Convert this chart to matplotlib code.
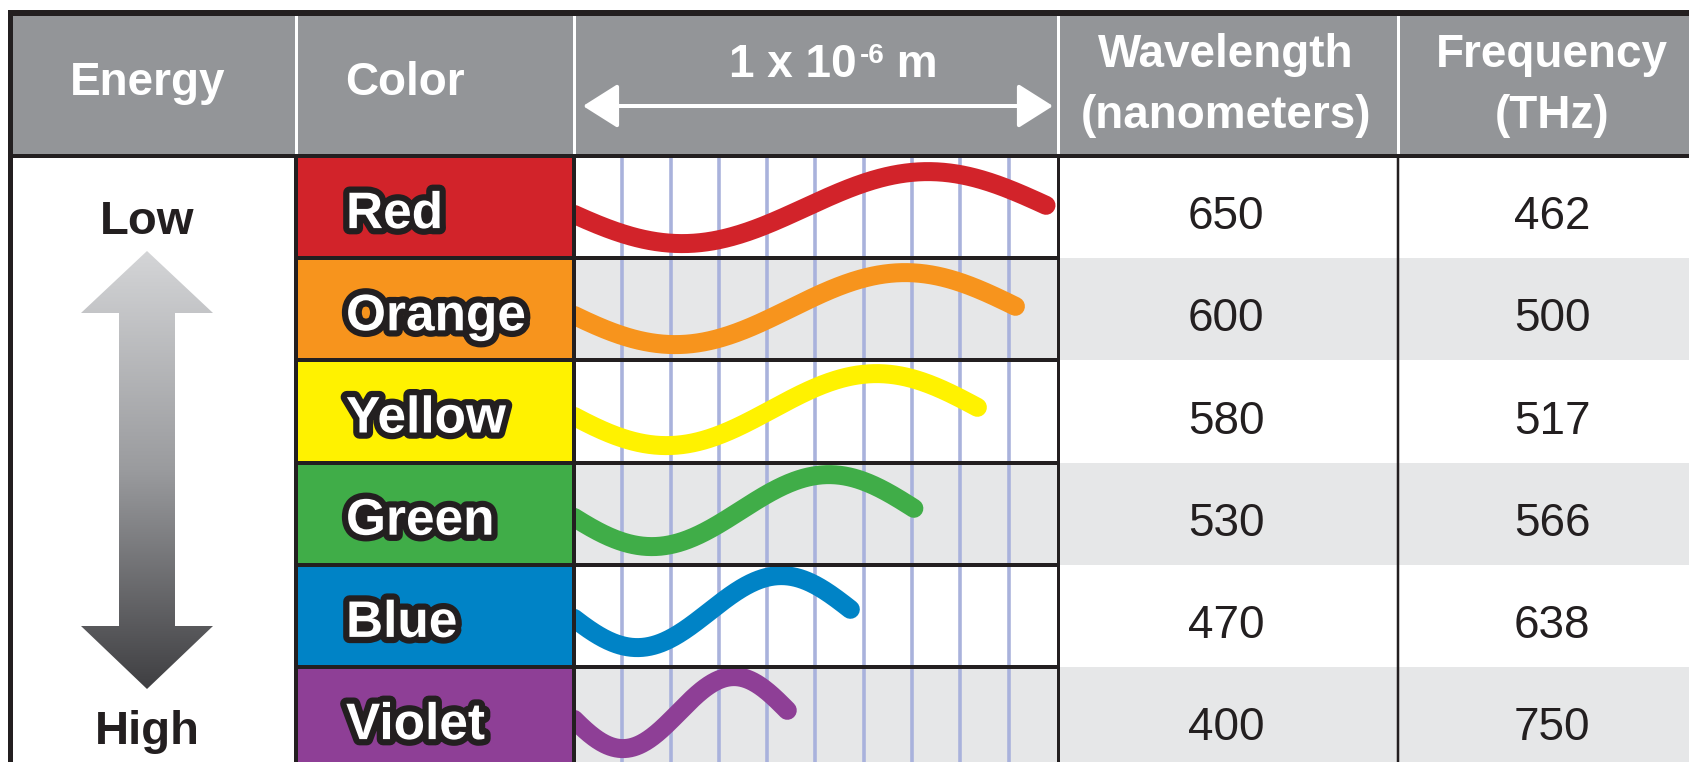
import numpy as np
import matplotlib.pyplot as plt
import matplotlib.patheffects as pe
from matplotlib.patches import Rectangle, Polygon, FancyArrowPatch
from matplotlib.colors import LinearSegmentedColormap

plt.rcParams['font.family'] = ['Liberation Sans', 'DejaVu Sans']

# data
color_names = ['Red', 'Orange', 'Yellow', 'Green', 'Blue', 'Violet']
wavelength_nm = [650, 600, 580, 530, 470, 400]
frequency_thz = [462, 500, 517, 566, 638, 750]
swatch_colors = ['#d2232a', '#f7941d', '#fff200', '#40ad48', '#0083c6', '#8e3f96']
# period of each drawn wave, as a fraction of the 1 x 10^-6 m scale width
wave_period = [1.018, 0.952, 0.870, 0.733, 0.596, 0.460]

W, H = 1690, 762
PX = 0.72  # points per pixel at dpi 100

fig = plt.figure(figsize=(W / 100, H / 100), dpi=100)
ax = fig.add_axes([0, 0, 1, 1])

DARK = '#231f20'
GRAY = '#939598'
LIGHT = '#e6e7e8'
GRID = '#a9b2dc'

col_x = [11, 296, 574, 1058, 1398, 1706]
top, head_bot, row_h = 13, 156, 102.2
wave_l, wave_r = 574, 1057

# header band
ax.add_patch(Rectangle((col_x[0], top), W - col_x[0], head_bot - top, fc=GRAY, ec='none', zorder=1))
for x in col_x[1:5]:
    ax.plot([x, x], [16, head_bot], color='white', lw=3 * PX, zorder=2)

# body shading
for i in range(len(color_names)):
    y0 = head_bot + i * row_h
    fc = 'white' if i % 2 == 0 else LIGHT
    ax.add_patch(Rectangle((wave_l, y0), W - wave_l, row_h, fc=fc, ec='none', zorder=1))

# vertical grid in the wave column
step = (wave_r - wave_l) / 10
for k in range(1, 10):
    xg = wave_l + k * step
    ax.plot([xg, xg], [head_bot, H], color=GRID, lw=3.6 * PX, zorder=2)

# waves
clip = Rectangle((wave_l, head_bot), wave_r - wave_l, H - head_bot, transform=ax.transData)
amp = 36
t = np.linspace(0, 0.96, 300)
for i, (per, c) in enumerate(zip(wave_period, swatch_colors)):
    mid = head_bot + (i + 0.5) * row_h + 0.5 - i * 1.2
    xs = wave_l + t * per * (wave_r - wave_l)
    ys = mid + amp * np.cos(2 * np.pi * (t - 0.22))
    ln, = ax.plot(xs, ys, color=c, lw=19 * PX, solid_capstyle='round', zorder=3)
    ln.set_clip_path(clip)

# row separators in the wave column
for i in range(1, len(color_names)):
    y = head_bot + i * row_h
    ax.plot([wave_l, col_x[3]], [y, y], color=DARK, lw=4 * PX, zorder=4)
ax.plot([col_x[3], col_x[3]], [head_bot, H], color=DARK, lw=3 * PX, zorder=4)
ax.plot([col_x[4], col_x[4]], [head_bot, H], color=DARK, lw=2.5 * PX, zorder=4)
ax.plot([col_x[0], W], [head_bot, head_bot], color=DARK, lw=4 * PX, zorder=4)

# outer border
ax.plot([8, W], [13, 13], color=DARK, lw=6 * PX, solid_capstyle='butt', zorder=6)
ax.plot([10.5, 10.5], [10, H], color=DARK, lw=5 * PX, solid_capstyle='butt', zorder=6)

# color swatches
outline = [pe.withStroke(linewidth=9, foreground=DARK)]
for i, (name, c) in enumerate(zip(color_names, swatch_colors)):
    y0 = head_bot + i * row_h
    ax.add_patch(Rectangle((col_x[1], y0), col_x[2] - col_x[1], row_h, fc=c, ec=DARK,
                           lw=4 * PX, zorder=5))
    ax.text(346, y0 + row_h / 2 + 21, name, color='white', fontsize=37, fontweight='bold',
            ha='left', va='baseline', path_effects=outline, zorder=7)

# numbers
for i in range(len(color_names)):
    yb = head_bot + i * row_h + row_h / 2 + 22
    ax.text(1226, yb, str(wavelength_nm[i]), fontsize=33, color=DARK, ha='center', va='baseline', zorder=7)
    ax.text(1552, yb, str(frequency_thz[i]), fontsize=33, color=DARK, ha='center', va='baseline', zorder=7)

# header labels
hd = dict(color='white', fontsize=33, fontweight='bold', va='baseline', zorder=7)
ax.text(148, 95, 'Energy', ha='center', **hd)
ax.text(345, 95, 'Color', ha='left', **hd)
ax.text(1226, 67, 'Wavelength', ha='center', **hd)
ax.text(1226, 128, '(nanometers)', ha='center', **hd)
ax.text(1552, 67, 'Frequency', ha='center', **hd)
ax.text(1552, 128, '(THz)', ha='center', **hd)

t1 = ax.text(729, 77, '1 x 10', ha='left', **hd)
t2 = ax.annotate('-6', xy=(1, 63), xycoords=(t1, 'data'), xytext=(2, 0), textcoords='offset points',
                 color='white', fontsize=20, fontweight='bold', ha='left', va='baseline', zorder=7)
ax.annotate(' m', xy=(1, 77), xycoords=(t2, 'data'), color='white', fontsize=33,
            fontweight='bold', ha='left', va='baseline', zorder=7)

ax.add_patch(FancyArrowPatch((583, 106), (1053, 106),
                             arrowstyle='<|-|>,head_length=0.95,head_width=0.6',
                             mutation_scale=23, color='white', lw=4 * PX,
                             shrinkA=0, shrinkB=0, zorder=7))

# energy arrow with gradient
cx = 147
arrow_pts = [(cx, 251), (cx + 66, 313), (cx + 28, 313), (cx + 28, 626), (cx + 66, 626),
             (cx, 689), (cx - 66, 626), (cx - 28, 626), (cx - 28, 313), (cx - 66, 313)]
poly = Polygon(arrow_pts, closed=True, fc='none', ec='none')
ax.add_patch(poly)
cmap = LinearSegmentedColormap.from_list('g', ['#d4d5d7', '#9a9b9e', '#3f3f42'])
img = ax.imshow(np.linspace(0, 1, 256).reshape(-1, 1), cmap=cmap, aspect='auto',
                extent=(cx - 66, cx + 66, 689, 251), origin='upper', zorder=3)
img.set_clip_path(poly)

ax.text(cx, 234, 'Low', color=DARK, fontsize=34, fontweight='bold', ha='center', va='baseline')
ax.text(cx, 744, 'High', color=DARK, fontsize=34, fontweight='bold', ha='center', va='baseline')

ax.set_xlim(0, W)
ax.set_ylim(H, 0)
ax.axis('off')
fig.savefig('out.png', dpi=100)
